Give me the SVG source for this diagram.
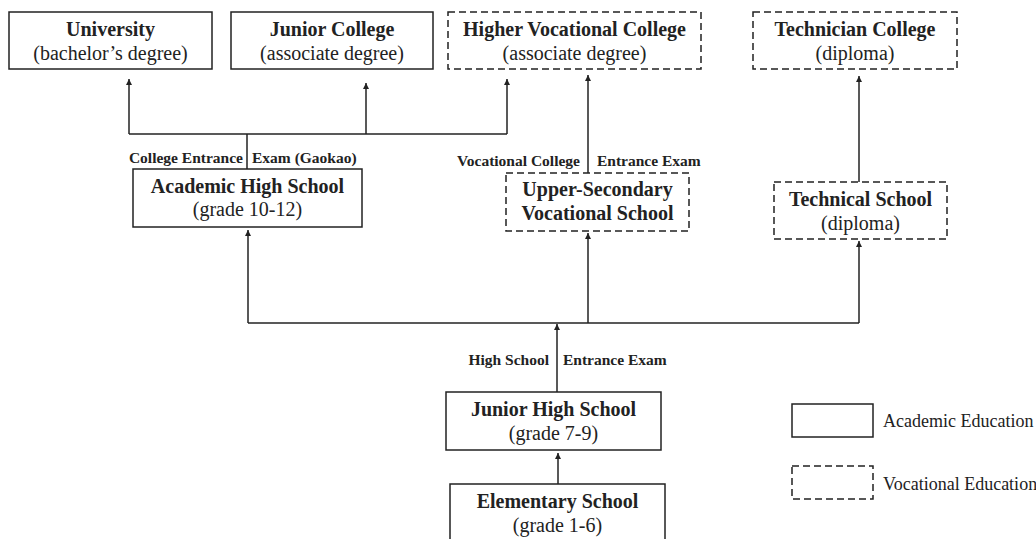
<svg xmlns="http://www.w3.org/2000/svg" width="1036" height="539" viewBox="0 0 1036 539">
<defs>
<marker id="ah" viewBox="0 0 10 10" refX="10" refY="5" markerWidth="6" markerHeight="6" markerUnits="userSpaceOnUse" orient="auto">
<path d="M0,0 L10,5 L0,10 z" fill="#222"/>
</marker>
</defs>
<style>
.box{fill:#fff;stroke:#222;stroke-width:1.5}
.dash{fill:#fff;stroke:#222;stroke-width:1.5;stroke-dasharray:7,4}
.t{font-family:"Liberation Serif","Times New Roman",serif;font-weight:bold;font-size:20px;fill:#222;text-anchor:middle}
.s{font-family:"Liberation Serif","Times New Roman",serif;font-size:20px;fill:#222;text-anchor:middle}
.l{font-family:"Liberation Serif","Times New Roman",serif;font-weight:bold;font-size:15.5px;fill:#222}
.lg{font-family:"Liberation Serif","Times New Roman",serif;font-size:18px;fill:#222}
.c{fill:none;stroke:#222;stroke-width:1.5}
.a{fill:none;stroke:#222;stroke-width:1.5;marker-end:url(#ah)}
</style>
<rect width="1036" height="539" fill="#fff"/>

<g id="connectors">
<path class="c" d="M129,134 H507"/>
<path class="c" d="M247,134 V169"/>
<path class="a" d="M129,134 V79"/>
<path class="a" d="M366,134 V83"/>
<path class="a" d="M507,134 V79"/>
<path class="a" d="M588,173 V75"/>
<path class="a" d="M859,182 V76"/>
<path class="c" d="M248,323 H859"/>
<path class="a" d="M248,323 V230"/>
<path class="a" d="M588,323 V233"/>
<path class="a" d="M859,323 V241"/>
<path class="a" d="M557,392 V324"/>
<path class="a" d="M558,484 V453"/>
<text class="l" x="243" y="163" text-anchor="end">College Entrance</text>
<text class="l" x="252" y="163">Exam (Gaokao)</text>
<text class="l" x="580" y="166" text-anchor="end">Vocational College</text>
<text class="l" x="597" y="166">Entrance Exam</text>
<text class="l" x="549" y="365" text-anchor="end">High School</text>
<text class="l" x="563" y="365">Entrance Exam</text>
</g>

<g id="university">
<rect class="box" x="9" y="12" width="203" height="57"/>
<text class="t" x="110.5" y="36">University</text>
<text class="s" x="110.5" y="60">(bachelor’s degree)</text>
</g>
<g id="junior-college">
<rect class="box" x="231" y="12" width="202" height="57"/>
<text class="t" x="332" y="36">Junior College</text>
<text class="s" x="332" y="60">(associate degree)</text>
</g>
<g id="higher-vocational-college">
<rect class="dash" x="448" y="12" width="253" height="57"/>
<text class="t" x="574.5" y="36">Higher Vocational College</text>
<text class="s" x="574.5" y="60">(associate degree)</text>
</g>
<g id="technician-college">
<rect class="dash" x="753" y="12" width="204" height="57"/>
<text class="t" x="855" y="36">Technician College</text>
<text class="s" x="855" y="60">(diploma)</text>
</g>
<g id="academic-high-school">
<rect class="box" x="133" y="169" width="229" height="58"/>
<text class="t" x="247.5" y="193">Academic High School</text>
<text class="s" x="247.5" y="216">(grade 10-12)</text>
</g>
<g id="upper-secondary-vocational-school">
<rect class="dash" x="506" y="173" width="183" height="58"/>
<text class="t" x="597.5" y="196">Upper-Secondary</text>
<text class="t" x="597.5" y="220">Vocational School</text>
</g>
<g id="technical-school">
<rect class="dash" x="774" y="182" width="173" height="57"/>
<text class="t" x="860.5" y="206">Technical School</text>
<text class="s" x="860.5" y="230">(diploma)</text>
</g>
<g id="junior-high-school">
<rect class="box" x="446" y="392" width="215" height="58"/>
<text class="t" x="553.5" y="416">Junior High School</text>
<text class="s" x="553.5" y="440">(grade 7-9)</text>
</g>
<g id="elementary-school">
<rect class="box" x="450" y="484" width="215" height="58"/>
<text class="t" x="557.5" y="508">Elementary School</text>
<text class="s" x="557.5" y="532">(grade 1-6)</text>
</g>
<g id="legend">
<rect class="box" x="792" y="404" width="81" height="33"/>
<text class="lg" x="883" y="427">Academic Education</text>
<rect class="dash" x="792" y="466" width="81" height="33"/>
<text class="lg" x="883" y="490">Vocational Education</text>
</g>
</svg>
